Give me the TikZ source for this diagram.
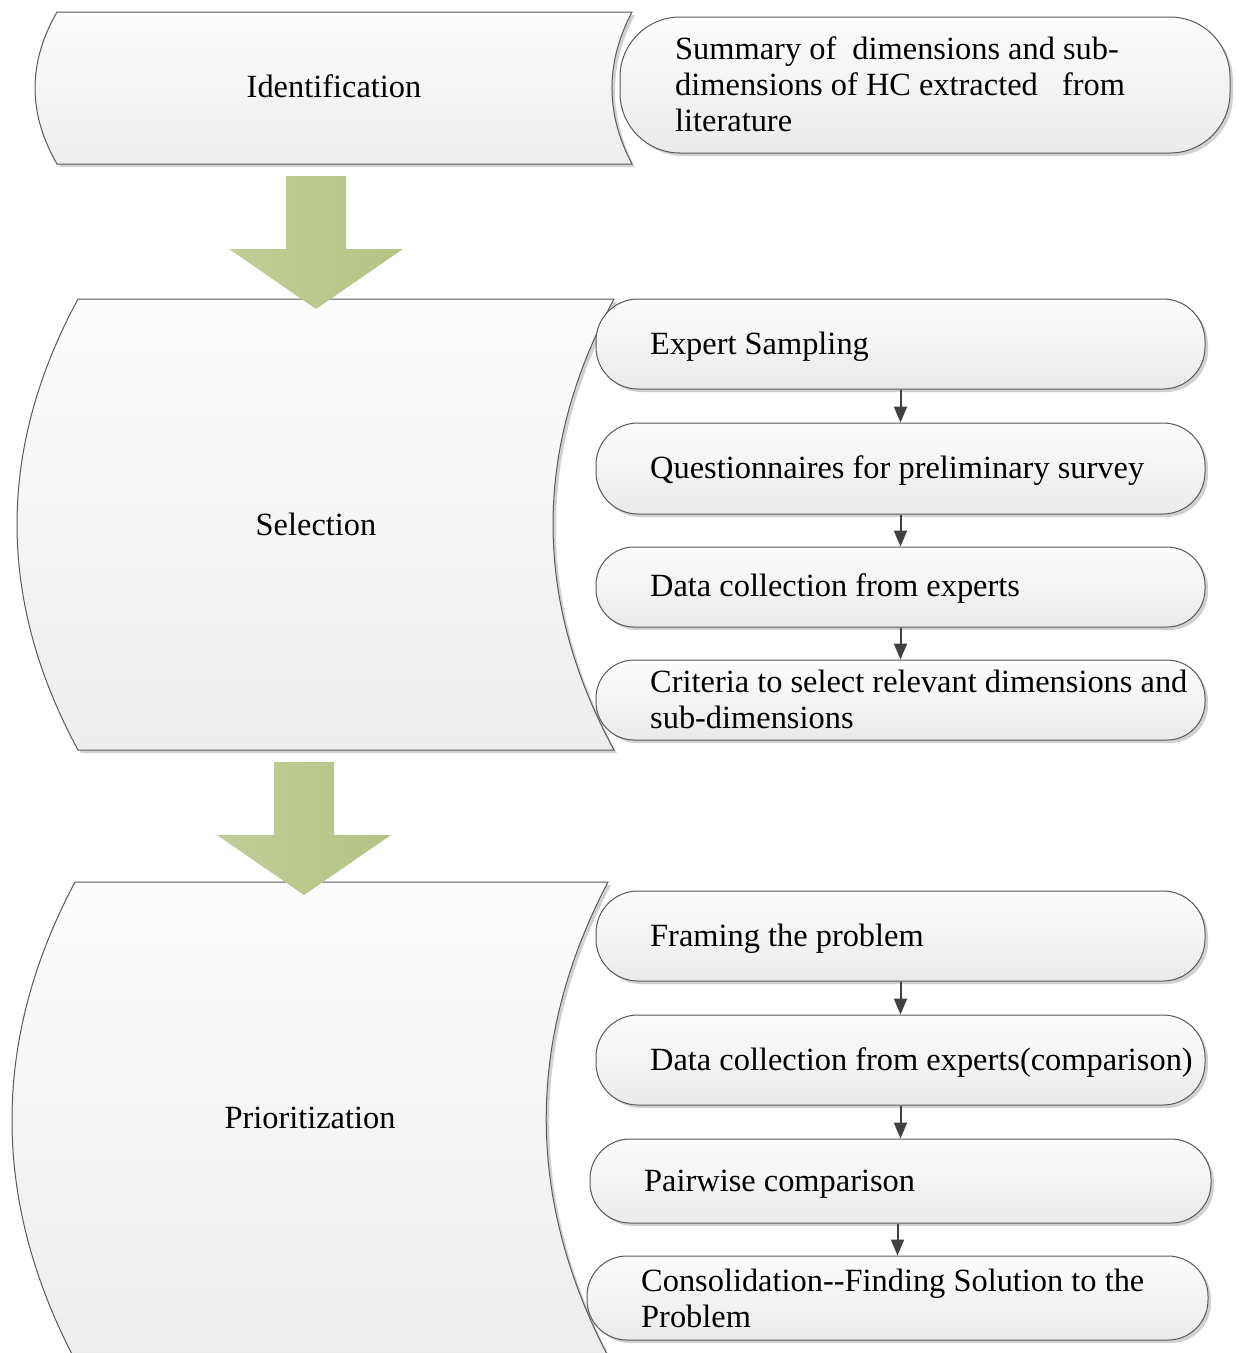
\documentclass[tikz,border=0pt]{standalone}
\usepackage{fontspec}
\setmainfont{Liberation Serif}
\usetikzlibrary{arrows.meta,shadows}

\begin{document}
\begin{tikzpicture}[x=1pt,y=-1pt,
  stage/.style={draw=black!65, line width=1pt, top color=black!1, bottom color=black!7,
    drop shadow={shadow xshift=3pt,shadow yshift=-3pt,fill=black!40,opacity=0.45}},
  sbox/.style={draw=black!65, line width=1pt, rounded corners=42pt, top color=black!1, bottom color=black!8,
    minimum width=609pt, minimum height=90pt, inner sep=0pt,
    drop shadow={shadow xshift=3pt,shadow yshift=-3pt,fill=black!40,opacity=0.45}},
  txt/.style={font=\fontsize{32.4}{36}\selectfont, inner sep=0pt, align=left},
  lbl/.style={txt, anchor=west},
  conn/.style={draw=black!75, line width=2pt, -{Triangle[length=16pt,width=13pt]}},
  bigarrow/.style={left color={rgb,255:red,192;green,205;blue,152}, right color={rgb,255:red,181;green,196;blue,133}}
]
\useasboundingbox (0,0) rectangle (1241,1353);

% stage shapes with curved sides
\path[stage] (57,12) -- (632,12) .. controls (605.3,62.7) and (605.3,113.3) .. (632,164)
  -- (57,164) .. controls (27.7,113.3) and (27.7,62.7) .. (57,12) -- cycle;
\node[txt] (ident) at (334,86) {Identification};

\path[stage] (78,299) -- (614,299) .. controls (532.7,449.3) and (532.7,599.7) .. (614,750)
  -- (78,750) .. controls (-3.3,599.7) and (-3.3,449.3) .. (78,299) -- cycle;
\node[txt] (select) at (316,524) {Selection};

\path[stage] (75,882) -- (608,882) .. controls (525.3,1040) and (525.3,1200) .. (610,1360)
  -- (75,1360) .. controls (-9,1200) and (-9,1040) .. (75,882) -- cycle;
\node[txt] (prior) at (310,1118) {Prioritization};

% block arrows between stages
\path[bigarrow] (286,176) -- (346,176) -- (346,249) -- (403,249) -- (316,309) -- (229,249) -- (286,249) -- cycle;
\path[bigarrow] (274,762) -- (334,762) -- (334,835) -- (391,835) -- (304,895) -- (217,835) -- (274,835) -- cycle;

% identification detail
\node[sbox, minimum width=610pt, minimum height=136pt, rounded corners=60pt] (s0) at (925,85) {};
\node[lbl] (t0) at (675,84) {Summary of\ \ dimensions and sub-\\dimensions of HC extracted\ \ \ from\\literature};

% selection steps
\node[sbox] (b1) at (900.5,344) {};
\node[lbl] (t1) at (650,347) {Expert Sampling};
\node[sbox, minimum height=91pt] (b2) at (900.5,468.5) {};
\node[lbl] (t2) at (650,471) {Questionnaires for preliminary survey};
\node[sbox, minimum height=80pt, rounded corners=38pt] (b3) at (900.5,587) {};
\node[lbl] (t3) at (650,589) {Data collection from experts};
\node[sbox, minimum height=80pt, rounded corners=38pt] (b4) at (900.5,700) {};
\node[lbl] (t4) at (650,699) {Criteria to select relevant dimensions and\\sub-dimensions};

\draw[conn] (b1.south) -- (b2.north);
\draw[conn] (b2.south) -- (b3.north);
\draw[conn] (b3.south) -- (b4.north);

% prioritization steps
\node[sbox] (b5) at (900.5,936) {};
\node[lbl] (t5) at (650,939) {Framing the problem};
\node[sbox] (b6) at (900.5,1060) {};
\node[lbl] (t6) at (650,1063) {Data collection from experts(comparison)};
\node[sbox, minimum width=621pt, minimum height=84pt, rounded corners=40pt] (b7) at (900.5,1181) {};
\node[lbl] (t7) at (644,1184) {Pairwise comparison};
\node[sbox, minimum width=621pt, minimum height=84pt, rounded corners=40pt] (b8) at (897.5,1298) {};
\node[lbl] (t8) at (641,1298) {Consolidation-{}-Finding Solution to the\\Problem};

\draw[conn] (b5.south) -- (b6.north);
\draw[conn] (b6.south) -- (b7.north);
\draw[conn] (b7.south -| b8.north) -- (b8.north);
\end{tikzpicture}
\end{document}
